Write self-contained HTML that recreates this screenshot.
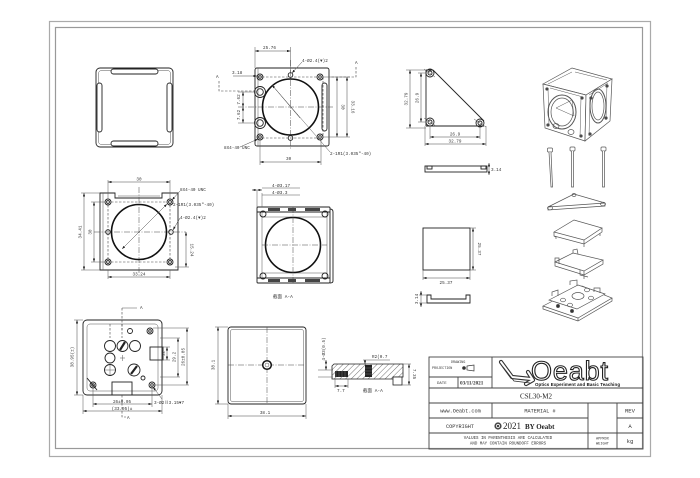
<!DOCTYPE html>
<html><head><meta charset="utf-8"><style>
html,body{margin:0;padding:0;background:#fff;}
svg{display:block}
text{font-family:"Liberation Mono","Noto Sans CJK SC",monospace;fill:#333;}
.o{fill:none;stroke:#222;stroke-width:.9}
.of{fill:#fff;stroke:#222;stroke-width:.9}
.b{fill:none;stroke:#111;stroke-width:1.6}
.t{fill:none;stroke:#555;stroke-width:.5}
.d{fill:none;stroke:#444;stroke-width:.5;marker-start:url(#ar);marker-end:url(#ar)}
.e{fill:none;stroke:#444;stroke-width:.5;marker-end:url(#ar)}
.c{fill:none;stroke:#444;stroke-width:.5;stroke-dasharray:6 1.5 1 1.5}
.h{fill:none;stroke:#444;stroke-width:.6;stroke-dasharray:2.5 1.5}
.s{font-size:4.3px}
.r{font-size:4.3px;text-anchor:middle}
.g{stroke:#555;stroke-width:.7}
</style></head><body>
<svg width="700" height="478" viewBox="0 0 700 478" xmlns="http://www.w3.org/2000/svg">
<defs>
<marker id="ar" viewBox="0 0 6 4" refX="6" refY="2" markerWidth="3.5" markerHeight="2.4" markerUnits="userSpaceOnUse" orient="auto-start-reverse"><path d="M0,0L6,2L0,4z" fill="#222"/></marker>
<pattern id="hp" width="4" height="4" patternUnits="userSpaceOnUse" patternTransform="rotate(45)"><rect width="4" height="4" fill="#fff"/><line x1="0" y1="0" x2="0" y2="4" stroke="#333" stroke-width="0.7"/></pattern>
</defs>
<rect width="700" height="478" fill="#fff"/>
<!-- border -->
<rect x="49.5" y="21.5" width="601" height="435" fill="none" stroke="#aaa" stroke-width="1.2"/>
<rect x="55.5" y="27.5" width="587" height="421" fill="none" stroke="#999" stroke-width="1.2"/>

<!-- VIEW 1 -->
<rect class="o" x="96" y="68" width="77" height="79" rx="4"/>
<rect class="t" x="98.5" y="70.5" width="72" height="74" rx="3"/>
<rect class="of" x="111" y="69" width="47" height="5" rx="2.5"/>
<rect class="of" x="111" y="141" width="47" height="5" rx="2.5"/>
<rect class="of" x="97" y="83" width="5" height="49" rx="2.5"/>
<rect class="of" x="167" y="83" width="5" height="49" rx="2.5"/>

<!-- VIEW 2 -->
<rect class="o" x="255" y="68" width="74" height="78" rx="2"/>
<line class="t" x1="258" y1="68" x2="258" y2="146"/>
<rect class="o" x="322" y="83" width="5" height="48" rx="2.5"/>
<line class="h" x1="262" y1="77" x2="318" y2="77"/>
<line class="h" x1="262" y1="138" x2="318" y2="138"/>
<line class="h" x1="323" y1="77" x2="323" y2="138"/>
<line class="c" x1="238" y1="107" x2="333" y2="107"/>
<line class="c" x1="290.5" y1="60" x2="290.5" y2="150"/>
<circle class="b" cx="290.5" cy="107" r="28"/>
<g class="o">
<circle cx="260" cy="77" r="3"/><circle cx="260" cy="77" r="1.3"/>
<circle cx="320" cy="77" r="3"/><circle cx="320" cy="77" r="1.3"/>
<circle cx="260" cy="137" r="3"/><circle cx="260" cy="137" r="1.3"/>
<circle cx="320" cy="137" r="3"/><circle cx="320" cy="137" r="1.3"/>
<circle cx="290.5" cy="75" r="2.3"/><circle cx="290.5" cy="138" r="2.3"/>
<circle cx="260" cy="92" r="5.5"/><circle cx="260" cy="92" r="3.3"/>
<circle cx="260" cy="123" r="5.5"/><circle cx="260" cy="123" r="3.3"/>
</g>
<line class="t" x1="272" y1="85" x2="330" y2="152"/>
<path class="e" d="M300,118 L272,85"/>
<text class="s" x="330" y="155">2-1R1(3.035"-40)</text>
<line class="t" x1="255" y1="47" x2="255" y2="68"/>
<line class="t" x1="290.5" y1="47" x2="290.5" y2="72"/>
<line class="d" x1="255" y1="51" x2="290.5" y2="51"/>
<text class="s" x="263" y="49">25.76</text>
<line class="e" x1="233" y1="76" x2="257" y2="76"/>
<text class="s" x="232" y="74">3.18</text>
<text class="s" x="216" y="78">A</text>
<path class="h" d="M219,81 V91 H254"/>
<line class="t" x1="238" y1="92" x2="255" y2="92"/>
<line class="t" x1="238" y1="123" x2="255" y2="123"/>
<line class="d" x1="243" y1="92" x2="243" y2="107"/>
<line class="d" x1="243" y1="107" x2="243" y2="123"/>
<text class="r" transform="translate(240,99.5) rotate(-90)">7.62</text>
<text class="r" transform="translate(240,115) rotate(-90)">7.62</text>
<text class="s" x="355" y="64">A</text>
<path class="h" d="M356,67 V77 H330"/>
<line class="t" x1="323" y1="77" x2="350" y2="77"/>
<line class="t" x1="323" y1="137" x2="350" y2="137"/>
<line class="d" x1="337" y1="77" x2="337" y2="137"/>
<text class="r" transform="translate(341.5,107) rotate(90)">30</text>
<line class="d" x1="347" y1="77" x2="347" y2="137"/>
<text class="r" transform="translate(351.5,107) rotate(90)">33.16</text>
<line class="t" x1="260" y1="140" x2="260" y2="165"/>
<line class="t" x1="321" y1="140" x2="321" y2="165"/>
<line class="d" x1="260" y1="162" x2="321" y2="162"/>
<text class="s" x="286" y="160">30</text>
<path class="e" d="M240,147 L258,139"/>
<text class="s" x="224" y="149">8X4-40 UNC</text>
<path class="e" d="M302,62 L292,73"/>
<text class="s" x="302" y="62">4-Ø2.4(▼)2</text>

<!-- VIEW 3 triangle -->
<g class="o">
<line x1="426" y1="70" x2="426" y2="126"/>
<line x1="426" y1="126" x2="484" y2="126"/>
<line x1="433" y1="70" x2="484" y2="121"/>
<line x1="426" y1="70" x2="433" y2="70"/>
<circle cx="430" cy="73" r="4"/><circle cx="430" cy="73" r="2"/>
<circle cx="430" cy="122" r="4"/><circle cx="430" cy="122" r="2"/>
<circle cx="480" cy="123" r="4"/><circle cx="480" cy="123" r="2"/>
</g>
<g class="t">
<line x1="424" y1="69" x2="435" y2="77"/><line x1="424" y1="118" x2="436" y2="126"/><line x1="474" y1="119" x2="486" y2="127"/>
<line x1="406" y1="70" x2="426" y2="70"/><line x1="406" y1="128" x2="426" y2="128"/>
<line x1="418" y1="73" x2="426" y2="73"/><line x1="418" y1="122" x2="426" y2="122"/>
<line x1="430" y1="126" x2="430" y2="139"/><line x1="480" y1="126" x2="480" y2="139"/>
<line x1="425" y1="126" x2="425" y2="146"/><line x1="486" y1="126" x2="486" y2="146"/>
</g>
<line class="d" x1="410" y1="70" x2="410" y2="128"/>
<line class="d" x1="421" y1="73" x2="421" y2="122"/>
<text class="r" transform="translate(407.5,99) rotate(-90)">32.79</text>
<text class="r" transform="translate(418.5,98) rotate(-90)">26.9</text>
<line class="d" x1="430" y1="137" x2="480" y2="137"/>
<text class="r" x="455" y="135.5">26.9</text>
<line class="d" x1="425" y1="144" x2="486" y2="144"/>
<text class="r" x="455" y="142.5">32.79</text>
<rect class="o" x="425" y="166" width="62" height="6"/>
<rect class="o" x="427" y="166" width="5" height="3"/>
<rect class="o" x="481" y="166" width="5" height="3"/>
<line class="d" x1="489" y1="163" x2="489" y2="175"/>
<text class="s" x="491" y="171">3.14</text>

<!-- CUBE -->
<g class="g" fill="none">
<polygon points="543,84 572,68 612,79 586,95" fill="#fff"/>
<polygon points="543,84 586,95 585,141 545,128" fill="#fff"/>
<polygon points="586,95 612,79 610,121 585,141" fill="#fff"/>
<path d="M548,84 L572,72 M575,72 L607,80 M550,88 L583,97 M589,95 L608,83" stroke-width=".5"/>
<line x1="548" y1="88" x2="549" y2="126" stroke-width=".5"/><line x1="581" y1="98" x2="580" y2="137" stroke-width=".5"/>
<line x1="590" y1="97" x2="589" y2="136" stroke-width=".5"/><line x1="607" y1="84" x2="606" y2="120" stroke-width=".5"/>
<ellipse cx="562" cy="112" rx="14" ry="17" stroke-width="1"/><ellipse cx="562" cy="112" rx="11" ry="14"/>
<path d="M556,108 L572,100 L574,116 Z" stroke-width=".5"/>
<ellipse cx="598" cy="106" rx="8" ry="17" stroke-width="1"/><ellipse cx="598" cy="106" rx="6" ry="14"/>
<circle cx="547" cy="89" r="1.3" fill="#444"/><circle cx="582" cy="98" r="1.3" fill="#444"/><circle cx="548" cy="125" r="1.3" fill="#444"/><circle cx="581" cy="136" r="1.3" fill="#444"/>
<circle cx="591" cy="98" r="1.3" fill="#444"/><circle cx="607" cy="86" r="1.3" fill="#444"/><circle cx="606" cy="118" r="1.3" fill="#444"/><circle cx="590" cy="134" r="1.3" fill="#444"/>
<ellipse cx="556" cy="126" rx="3" ry="2.5"/><ellipse cx="571" cy="132" rx="3" ry="2.5"/>
</g>
<!-- screws -->
<g class="g" fill="#fff">
<rect x="547.5" y="148" width="5" height="4" rx="1"/><path d="M549,152 L551,187 L552.5,187 L551,152"/>
<rect x="570" y="147" width="5" height="4" rx="1"/><path d="M571.5,151 L571.5,187 L573.5,187 L573.5,151"/>
<rect x="601" y="147" width="5" height="4" rx="1"/><path d="M602.5,151 L602.5,187 L604.5,187 L604.5,151"/>
</g>
<!-- triangle plate iso -->
<g class="g" fill="none">
<polygon points="548,207 574,194 605,203" fill="#fff"/>
<path d="M548,207 L548,210 L605,206 L605,203"/>
<ellipse cx="550" cy="208" rx="2.5" ry="1.8"/><ellipse cx="603" cy="204" rx="2.5" ry="1.8"/><ellipse cx="574" cy="195" rx="2" ry="1.5"/>
</g>
<!-- square plate -->
<g class="g" fill="none">
<polygon points="554,232 574,220 602,228 584,240" fill="#fff"/>
<path d="M554,232 L554,236 L584,244 L602,232 L602,228 M584,240 L584,247 M554,236 L556,237 L556,239 M600,233 L600,236"/>
</g>
<!-- plate with tabs -->
<g class="g" fill="none">
<polygon points="555,262 573,253 603,260 584,271" fill="#fff"/>
<path d="M555,262 L555,266 L584,275 L603,264 L603,260 M584,271 L584,279 M573,253 L573,250 L577,249 L578,254 M555,262 L555,258 L559,258 L559,264 M580,270 L580,275 L588,277"/>
</g>
<!-- base -->
<g class="g" fill="none">
<polygon points="543,306 582,286 612,298 578,318" fill="#fff"/>
<path d="M543,306 L543,309 L578,321 L612,301 L612,298 M578,318 L578,321"/>
<polygon points="549,300 578,285 605,294 577,309" fill="#fff"/>
<path d="M552,296 L552,292 L558,290 L558,296 M594,292 L594,288 L600,288 L600,293 M570,285 L570,281 L577,280 L577,286"/>
<ellipse cx="578" cy="296" rx="6" ry="3.5"/>
<ellipse cx="563" cy="300" rx="2.5" ry="1.8"/><ellipse cx="591" cy="298" rx="2.5" ry="1.8"/><ellipse cx="570" cy="305" rx="2.5" ry="1.8"/><ellipse cx="587" cy="290" rx="2.5" ry="1.8"/>
<ellipse cx="558" cy="306" rx="1.6" ry="1.6" fill="#333"/><ellipse cx="572" cy="311" rx="1.6" ry="1.6" fill="#333"/>
</g>

<!-- square + profile right-left -->
<rect class="o" x="423" y="228" width="47" height="42"/>
<line class="t" x1="470" y1="228" x2="476" y2="228"/>
<line class="t" x1="470" y1="270" x2="476" y2="270"/>
<line class="d" x1="473" y1="228" x2="473" y2="270"/>
<text class="r" transform="translate(478,249) rotate(90)">25.37</text>
<line class="t" x1="423" y1="270" x2="423" y2="280"/>
<line class="t" x1="470" y1="270" x2="470" y2="280"/>
<line class="d" x1="423" y1="278" x2="470" y2="278"/>
<text class="r" x="446" y="284">25.37</text>
<path class="o" d="M427,295 L427,303 L470,303 L470,295 L466,295 L466,299 L431,299 L431,295 Z"/>
<line class="t" x1="419" y1="295" x2="427" y2="295"/>
<line class="t" x1="419" y1="303" x2="427" y2="303"/>
<line class="d" x1="421" y1="291" x2="421" y2="307"/>
<text class="r" transform="translate(418,299) rotate(-90)">3.14</text>

<!-- VIEW 4 -->
<path class="o" d="M100,193 H115 V198 H162 V193 H178 V270 H100 Z"/>
<line class="t" x1="103" y1="193" x2="103" y2="270"/>
<line class="t" x1="118" y1="196" x2="160" y2="196"/>
<line class="h" x1="111" y1="202" x2="167" y2="202"/>
<line class="h" x1="111" y1="262" x2="167" y2="262"/>
<line class="h" x1="108" y1="205" x2="108" y2="259"/>
<line class="h" x1="170" y1="205" x2="170" y2="259"/>
<line class="c" x1="94" y1="232" x2="186" y2="232"/>
<line class="c" x1="139" y1="187" x2="139" y2="276"/>
<circle class="b" cx="139" cy="232" r="27.5"/>
<g class="o">
<circle cx="108" cy="202" r="3"/><circle cx="108" cy="202" r="1.4"/>
<circle cx="170" cy="202" r="3"/><circle cx="170" cy="202" r="1.4"/>
<circle cx="108" cy="262" r="3"/><circle cx="108" cy="262" r="1.4"/>
<circle cx="170" cy="262" r="3"/><circle cx="170" cy="262" r="1.4"/>
<circle cx="108" cy="232" r="2.3"/><circle cx="171" cy="232" r="2.3"/>
</g>
<line class="d" x1="122" y1="249" x2="167" y2="204"/>
<line class="t" x1="108" y1="180" x2="108" y2="199"/>
<line class="t" x1="170" y1="180" x2="170" y2="199"/>
<line class="d" x1="108" y1="182" x2="170" y2="182"/>
<text class="r" x="139" y="180.5">30</text>
<line class="t" x1="81" y1="193" x2="100" y2="193"/>
<line class="t" x1="81" y1="270" x2="100" y2="270"/>
<line class="t" x1="91" y1="202" x2="105" y2="202"/>
<line class="t" x1="91" y1="262" x2="105" y2="262"/>
<line class="d" x1="84" y1="193" x2="84" y2="270"/>
<line class="d" x1="94" y1="202" x2="94" y2="262"/>
<text class="r" transform="translate(81.5,232) rotate(-90)">34.41</text>
<text class="r" transform="translate(91.5,232) rotate(-90)">30</text>
<line class="t" x1="175" y1="267" x2="189" y2="267"/>
<line class="d" x1="186" y1="232" x2="186" y2="267"/>
<text class="r" transform="translate(190.5,250) rotate(90)">15.24</text>
<line class="t" x1="108" y1="270" x2="108" y2="279"/>
<line class="t" x1="170" y1="270" x2="170" y2="279"/>
<line class="d" x1="108" y1="277" x2="170" y2="277"/>
<text class="r" x="139" y="275.5">33.24</text>
<path class="e" d="M180,191 L172,200"/>
<text class="s" x="180" y="191">8X4-40 UNC</text>
<text class="s" x="173" y="206">2-1R1(3.035"-40)</text>
<path class="e" d="M180,218 L173,230"/>
<text class="s" x="180" y="219">4-Ø2.4(▼)2</text>

<!-- VIEW 5 section -->
<rect class="o" x="257" y="207" width="73" height="76" rx="1"/>
<path class="o" d="M330,209 Q333,209 333,212 V281 Q333,283 330,283"/>
<line class="o" x1="257" y1="212" x2="330" y2="212"/>
<line class="o" x1="257" y1="278" x2="330" y2="278"/>
<line class="t" x1="262" y1="217" x2="327" y2="217"/>
<line class="t" x1="262" y1="273" x2="327" y2="273"/>
<line class="t" x1="262" y1="212" x2="262" y2="278"/>
<line class="t" x1="327" y1="212" x2="327" y2="278"/>
<g fill="#444">
<rect x="268" y="208" width="12" height="3"/><rect x="288" y="208" width="8" height="3"/><rect x="305" y="208" width="15" height="3"/>
<rect x="268" y="279" width="12" height="3"/><rect x="288" y="279" width="8" height="3"/><rect x="305" y="279" width="15" height="3"/>
</g>
<g class="o">
<circle cx="263" cy="214" r="3"/><circle cx="325" cy="214" r="3"/>
<circle cx="263" cy="276" r="3"/><circle cx="325" cy="276" r="3"/>
</g>
<circle class="b" cx="293" cy="245" r="27.5"/>
<line class="c" x1="262" y1="245" x2="327" y2="245"/>
<line class="c" x1="293" y1="207" x2="293" y2="283"/>
<line class="t" x1="257" y1="190" x2="257" y2="207"/>
<line class="t" x1="262" y1="193" x2="262" y2="207"/>
<line class="d" x1="252" y1="190" x2="262" y2="190"/>
<line class="t" x1="262" y1="188" x2="300" y2="188"/>
<line class="t" x1="262" y1="195" x2="300" y2="195"/>
<text class="s" x="272" y="187">4-Ø3.17</text>
<text class="s" x="272" y="194">4-Ø3.3</text>
<text x="273" y="298" style="font-size:4.5px">截面 A-A</text>

<!-- VIEW 7 -->
<rect class="o" x="83" y="320" width="79" height="75" rx="4"/>
<rect class="t" x="87" y="324" width="71" height="67" rx="3"/>
<line class="h" x1="110" y1="324" x2="110" y2="338"/>
<line class="h" x1="122" y1="324" x2="122" y2="338"/>
<g class="o">
<circle cx="110" cy="346" r="5.5"/><circle cx="135" cy="346" r="5.5"/>
<circle cx="110" cy="358" r="5"/><circle cx="110" cy="370" r="5.5"/>
<circle cx="122.5" cy="346" r="5.5"/><circle cx="134" cy="370" r="6"/>
<circle cx="130" cy="331" r="2.5"/><circle cx="150" cy="331" r="3"/><circle cx="150" cy="331" r="1.3"/>
<circle cx="93" cy="385" r="3"/><circle cx="93" cy="385" r="1.3"/><circle cx="152" cy="385" r="3"/><circle cx="152" cy="385" r="1.3"/>
<circle cx="143" cy="378" r="2"/>
<rect x="150" y="347" width="13" height="13"/>
<rect x="112" y="382" width="20" height="13"/>
<path d="M87,378 L97,390"/>
</g>
<g stroke="#222" stroke-width="2.2">
<line x1="120" y1="350" x2="125" y2="342"/><line x1="131" y1="374" x2="137" y2="366"/>
</g>
<g class="t"><line x1="110" y1="365" x2="110" y2="375"/><line x1="105" y1="370" x2="115" y2="370"/><line x1="120" y1="358" x2="125" y2="358"/><line x1="122.5" y1="355" x2="122.5" y2="361"/></g>
<path class="t" d="M122,308 H137"/>
<path class="h" d="M122,308 V330"/>
<text class="s" x="140" y="309">A</text>
<path class="h" d="M122,395 V417 H126"/>
<text class="s" x="127" y="419">A</text>
<line class="t" x1="74" y1="320" x2="83" y2="320"/>
<line class="t" x1="74" y1="395" x2="83" y2="395"/>
<line class="d" x1="77" y1="320" x2="77" y2="395"/>
<text class="r" transform="translate(73.5,357) rotate(-90)">38.95(±)</text>
<line class="t" x1="162" y1="347" x2="170" y2="347"/>
<line class="t" x1="162" y1="360" x2="170" y2="360"/>
<line class="t" x1="160" y1="338" x2="180" y2="338"/>
<line class="t" x1="160" y1="377" x2="180" y2="377"/>
<line class="t" x1="153" y1="328" x2="189" y2="328"/>
<line class="t" x1="153" y1="385" x2="189" y2="385"/>
<line class="d" x1="167" y1="347" x2="167" y2="360"/>
<line class="d" x1="178" y1="338" x2="178" y2="377"/>
<line class="d" x1="187" y1="328" x2="187" y2="385"/>
<text class="r" transform="translate(164.5,353.5) rotate(-90)">12</text>
<text class="r" transform="translate(175.5,357) rotate(-90)">29.2</text>
<text class="r" transform="translate(184.5,357) rotate(-90)">26±0.05</text>
<line class="t" x1="93" y1="388" x2="93" y2="407"/>
<line class="t" x1="152" y1="388" x2="152" y2="407"/>
<line class="t" x1="83" y1="395" x2="83" y2="414"/>
<line class="t" x1="162" y1="395" x2="162" y2="414"/>
<line class="d" x1="93" y1="404" x2="152" y2="404"/>
<line class="d" x1="83" y1="411" x2="162" y2="411"/>
<text class="r" x="122" y="403">26±0.05</text>
<text class="r" x="122" y="410">(33.95)±</text>
<path class="e" d="M162,399 L153,387"/>
<text class="s" x="154" y="404">3-Ø2Ⅱ3.15▼7</text>

<!-- VIEW 8 -->
<rect class="o" x="228" y="327" width="78" height="77" rx="3"/>
<rect class="t" x="230.5" y="329.5" width="73" height="72" rx="2"/>
<line class="c" x1="228" y1="365" x2="306" y2="365"/>
<line class="c" x1="267" y1="327" x2="267" y2="404"/>
<circle cx="267" cy="365" r="4.3" fill="#fff" stroke="#111" stroke-width="1.5"/>
<circle class="t" cx="267" cy="365" r="2"/>
<line class="t" x1="215" y1="327" x2="228" y2="327"/>
<line class="t" x1="215" y1="404" x2="228" y2="404"/>
<line class="d" x1="218" y1="327" x2="218" y2="404"/>
<text class="r" transform="translate(214.5,365) rotate(-90)">38.1</text>
<line class="t" x1="228" y1="404" x2="228" y2="419"/>
<line class="t" x1="306" y1="404" x2="306" y2="419"/>
<line class="d" x1="228" y1="416" x2="306" y2="416"/>
<text class="r" x="265" y="414">38.1</text>

<!-- section A-A bottom -->
<polygon points="332,366 334,364 403,364 403,377 393,377 393,379 332,379 332,366" fill="url(#hp)" stroke="#222" stroke-width=".8"/>
<rect x="393" y="377" width="9" height="8" fill="#fff" stroke="#222" stroke-width=".8"/>
<rect x="335" y="371" width="13" height="6" fill="#222"/>
<rect x="365" y="365" width="7" height="12" fill="#222"/>
<g stroke="#888" stroke-width=".4"><line x1="336" y1="371" x2="336" y2="377"/><line x1="339" y1="371" x2="339" y2="377"/><line x1="342" y1="371" x2="342" y2="377"/><line x1="345" y1="371" x2="345" y2="377"/><line x1="365" y1="368" x2="372" y2="368"/><line x1="365" y1="371" x2="372" y2="371"/><line x1="365" y1="374" x2="372" y2="374"/></g>
<line class="t" x1="318" y1="370" x2="333" y2="370"/>
<line class="t" x1="318" y1="377" x2="333" y2="377"/>
<line class="d" x1="326" y1="360" x2="326" y2="370"/>
<text class="r" transform="translate(325,349) rotate(-90)">4-Ø3(0.5)</text>
<line class="t" x1="403" y1="364" x2="411" y2="364"/>
<line class="t" x1="402" y1="385" x2="411" y2="385"/>
<line class="d" x1="409" y1="364" x2="409" y2="385"/>
<text class="r" transform="translate(413,374) rotate(90)">7.35</text>
<line class="t" x1="363" y1="360" x2="390" y2="360"/>
<line class="e" x1="365" y1="360" x2="365" y2="364"/>
<text class="s" x="372" y="358">R2(0.7</text>
<line class="t" x1="335" y1="379" x2="335" y2="388"/>
<line class="t" x1="348" y1="379" x2="348" y2="388"/>
<line class="d" x1="335" y1="386" x2="348" y2="386"/>
<text class="s" x="337" y="392">7.7</text>
<text x="363" y="392" style="font-size:4.5px">截面 A-A</text>

<!-- TITLE BLOCK -->
<g fill="none" stroke="#444" stroke-width=".9">
<rect x="429" y="357" width="214" height="92"/>
<line x1="429" y1="377" x2="492" y2="377"/>
<line x1="429" y1="388" x2="643" y2="388"/>
<line x1="429" y1="403" x2="643" y2="403"/>
<line x1="429" y1="418" x2="588" y2="418"/>
<line x1="617" y1="418" x2="643" y2="418"/>
<line x1="429" y1="433" x2="643" y2="433"/>
<line x1="458" y1="377" x2="458" y2="388"/>
<line x1="492" y1="357" x2="492" y2="388"/>
<line x1="492" y1="403" x2="492" y2="418"/>
<line x1="588" y1="403" x2="588" y2="449"/>
<line x1="617" y1="403" x2="617" y2="449"/>
</g>
<text x="451" y="363" style="font-size:3.4px">DRAWING</text>
<text x="432" y="369" style="font-size:3.4px">PROJECTION</text>
<circle cx="464" cy="368" r="1.8" fill="#333"/>
<path d="M467,366 L474,365 L474,371 L467,370 Z" fill="none" stroke="#333" stroke-width=".7"/>
<text x="437" y="384" style="font-size:4px">DATE</text>
<text x="460" y="384.5" style="font-size:5.2px;font-family:'Liberation Serif',serif;font-weight:bold">03/11/2021</text>
<!-- logo -->
<path d="M501,362 L512,377 L531,379 M528,372 L533,380 L526,384" fill="none" stroke="#333" stroke-width="4.2" stroke-linecap="round" stroke-linejoin="round"/>
<path d="M501,362 L512,377 L531,379 M528,372 L533,380 L526,384" fill="none" stroke="#fff" stroke-width="2" stroke-linecap="round" stroke-linejoin="round"/>
<path d="M503,367 L514,381 L530,383" fill="none" stroke="#333" stroke-width=".8"/>
<text x="531" y="380" textLength="77" style="font-family:'Liberation Sans',sans-serif;font-size:27px;fill:#fff;stroke:#222;stroke-width:1.1">Oeabt</text>
<text x="535" y="386" textLength="85" style="font-family:'Liberation Sans',sans-serif;font-size:4.4px;font-weight:bold;fill:#111">Optics Experiment and Basic Teaching</text>
<text x="536" y="398.5" text-anchor="middle" style="font-family:'Liberation Serif',serif;font-size:7px;fill:#222">CSL30-M2</text>
<text x="460.5" y="412.5" text-anchor="middle" style="font-size:5.2px">www.Oeabt.com</text>
<text x="540" y="412.5" text-anchor="middle" style="font-size:5.2px">MATERIAL #</text>
<text x="630" y="412.5" text-anchor="middle" style="font-size:5.6px">REV</text>
<text x="446" y="428" style="font-size:5.2px">COPYRIGHT</text>
<circle cx="498" cy="426" r="3.6" fill="#444"/><circle cx="498" cy="426" r="1.7" fill="none" stroke="#fff" stroke-width=".8"/>
<text x="503" y="429" style="font-family:'Liberation Serif',serif;font-size:9px;fill:#222">2021</text>
<text x="525" y="429" style="font-family:'Liberation Serif',serif;font-size:7px;font-weight:bold;fill:#222">BY Oeabt</text>
<text x="630" y="428" text-anchor="middle" style="font-size:5.6px">A</text>
<text x="508" y="439" text-anchor="middle" style="font-size:4.1px">VALUES IN PARENTHESIS ARE CALCULATED</text>
<text x="508" y="444.5" text-anchor="middle" style="font-size:4.1px">AND MAY CONTAIN ROUNDOFF ERRORS</text>
<text x="602.5" y="439.5" text-anchor="middle" style="font-size:3.6px">APPROX</text>
<text x="602.5" y="444.5" text-anchor="middle" style="font-size:3.6px">WEIGHT</text>
<text x="630" y="443" text-anchor="middle" style="font-size:5.6px">kg</text>
</svg>
</body></html>
